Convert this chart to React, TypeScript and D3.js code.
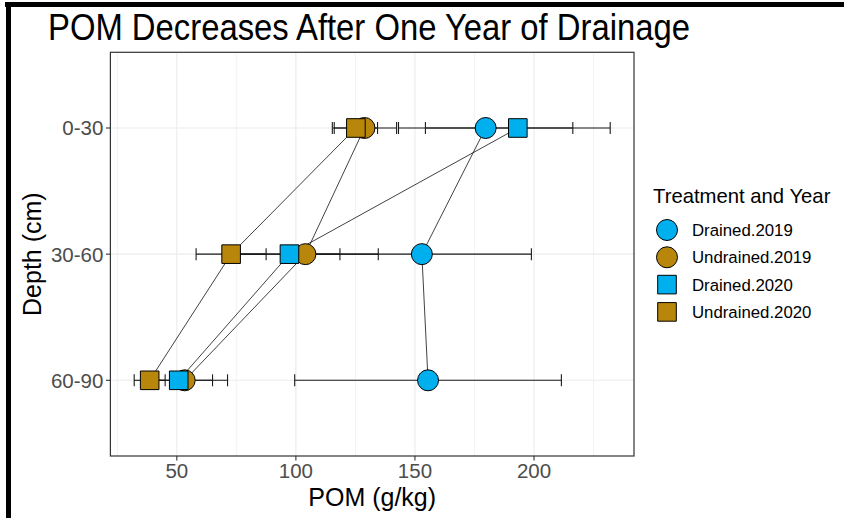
import React, { useEffect, useRef } from "react";
import * as d3 from "d3";

const depths = ["0-30", "30-60", "60-90"];
const seriesNames = ["Drained.2019", "Undrained.2019", "Drained.2020", "Undrained.2020"];
const drained2019 = [179.7, 152.9, 155.5];
const drained2019Se = [36.6, 46.0, 56.0];
const undrained2019 = [128.8, 104.0, 53.3];
const undrained2019Se = [13.5, 30.6, 18.0];
const drained2020 = [193.2, 97.3, 50.8];
const drained2020Se = [38.8, 21.2, 14.2];
const undrained2020 = [125.2, 72.8, 38.6];
const undrained2020Se = [9.1, 14.7, 6.5];
const xTicks = [50, 100, 150, 200];

const W = 844;
const H = 518;
const FONT = "'Liberation Sans', Arial, sans-serif";
const BLUE = "#00B0EE";
const GOLD = "#B8860B";

type Series = { name: string; means: number[]; se: number[]; color: string; shape: "circle" | "square" };

const App = () => {
    const svgRef = useRef<SVGSVGElement>(null);

    useEffect(() => {
        const series: Series[] = [
            { name: seriesNames[0], means: drained2019, se: drained2019Se, color: BLUE, shape: "circle" },
            { name: seriesNames[1], means: undrained2019, se: undrained2019Se, color: GOLD, shape: "circle" },
            { name: seriesNames[2], means: drained2020, se: drained2020Se, color: BLUE, shape: "square" },
            { name: seriesNames[3], means: undrained2020, se: undrained2020Se, color: GOLD, shape: "square" },
        ];

        const svg = d3.select(svgRef.current);
        svg.selectAll("*").remove();

        // frame of the screenshot
        svg.append("rect").attr("x", 0).attr("y", 0).attr("width", W).attr("height", H).attr("fill", "#fff");
        svg.append("rect").attr("x", 5).attr("y", 2).attr("width", W - 5).attr("height", 5).attr("fill", "#000");
        svg.append("rect").attr("x", 6).attr("y", 2).attr("width", 5).attr("height", H).attr("fill", "#000");

        const panel = { left: 110.4, right: 634, top: 52.3, bottom: 456 };

        // x domain from data with ggplot-like 5% expansion
        const lo = d3.min(series, (s) => d3.min(s.means, (m, i) => m - s.se[i])) as number;
        const hi = d3.max(series, (s) => d3.max(s.means, (m, i) => m + s.se[i])) as number;
        const pad = (hi - lo) * 0.05;
        const x = d3.scaleLinear().domain([lo - pad, hi + pad]).range([panel.left, panel.right]);
        const y = d3
            .scalePoint<string>()
            .domain(depths)
            .range([panel.top, panel.bottom])
            .padding(0.6);

        const g = svg.append("g");

        // grid
        const minor = d3.range(25, 250, 50).filter((v) => x(v) > panel.left && x(v) < panel.right);
        g.selectAll(".minor")
            .data(minor)
            .enter()
            .append("line")
            .attr("x1", (d) => x(d))
            .attr("x2", (d) => x(d))
            .attr("y1", panel.top)
            .attr("y2", panel.bottom)
            .attr("stroke", "#EBEBEB")
            .attr("stroke-width", 0.6);
        g.selectAll(".major")
            .data(xTicks)
            .enter()
            .append("line")
            .attr("x1", (d) => x(d))
            .attr("x2", (d) => x(d))
            .attr("y1", panel.top)
            .attr("y2", panel.bottom)
            .attr("stroke", "#EBEBEB")
            .attr("stroke-width", 1.1);
        g.selectAll(".hgrid")
            .data(depths)
            .enter()
            .append("line")
            .attr("x1", panel.left)
            .attr("x2", panel.right)
            .attr("y1", (d) => y(d) as number)
            .attr("y2", (d) => y(d) as number)
            .attr("stroke", "#EBEBEB")
            .attr("stroke-width", 1.1);

        // error bars
        series.forEach((s) => {
            s.means.forEach((m, i) => {
                const yy = y(depths[i]) as number;
                const x0 = x(m - s.se[i]);
                const x1 = x(m + s.se[i]);
                g.append("line").attr("x1", x0).attr("x2", x1).attr("y1", yy).attr("y2", yy)
                    .attr("stroke", "#1a1a1a").attr("stroke-width", 1.1);
                [x0, x1].forEach((xx) => {
                    g.append("line").attr("x1", xx).attr("x2", xx).attr("y1", yy - 6).attr("y2", yy + 6)
                        .attr("stroke", "#1a1a1a").attr("stroke-width", 1.1);
                });
            });
        });

        // connecting paths
        const line = d3
            .line<number>()
            .x((d) => x(d))
            .y((d, i) => y(depths[i]) as number);
        series.forEach((s) => {
            g.append("path")
                .attr("d", line(s.means))
                .attr("fill", "none")
                .attr("stroke", "#111")
                .attr("stroke-width", 0.8);
        });

        // points
        const symCircle = d3.symbol().type(d3.symbolCircle).size(Math.PI * 10.5 * 10.5);
        const symSquare = d3.symbol().type(d3.symbolSquare).size(18.6 * 18.6);
        ["circle", "square"].forEach((shape) => {
            series
                .filter((s) => s.shape === shape)
                .forEach((s) => {
                    g.selectAll(null)
                        .data(s.means)
                        .enter()
                        .append("path")
                        .attr("d", shape === "circle" ? symCircle() : symSquare())
                        .attr("transform", (d, i) => `translate(${x(d)},${y(depths[i])})`)
                        .attr("fill", s.color)
                        .attr("stroke", "#000")
                        .attr("stroke-width", 1);
                });
        });

        // panel border
        g.append("rect")
            .attr("x", panel.left)
            .attr("y", panel.top)
            .attr("width", panel.right - panel.left)
            .attr("height", panel.bottom - panel.top)
            .attr("fill", "none")
            .attr("stroke", "#333")
            .attr("stroke-width", 1.2);

        // axes ticks + labels
        xTicks.forEach((t) => {
            g.append("line").attr("x1", x(t)).attr("x2", x(t)).attr("y1", panel.bottom).attr("y2", panel.bottom + 4.5)
                .attr("stroke", "#333").attr("stroke-width", 1.1);
            g.append("text").attr("x", x(t)).attr("y", panel.bottom + 22).attr("text-anchor", "middle")
                .style("font-family", FONT).style("font-size", "20.5px").style("fill", "#4D4D4D").text(t);
        });
        depths.forEach((d) => {
            const yy = y(d) as number;
            g.append("line").attr("x1", panel.left - 4.5).attr("x2", panel.left).attr("y1", yy).attr("y2", yy)
                .attr("stroke", "#333").attr("stroke-width", 1.1);
            g.append("text").attr("x", panel.left - 7).attr("y", yy).attr("dy", "0.36em").attr("text-anchor", "end")
                .style("font-family", FONT).style("font-size", "20.5px").style("fill", "#4D4D4D").text(d);
        });

        // axis titles
        g.append("text").attr("x", (panel.left + panel.right) / 2).attr("y", 506).attr("text-anchor", "middle")
            .style("font-family", FONT).style("font-size", "25px").style("fill", "#000").text("POM (g/kg)");
        g.append("text")
            .attr("transform", `translate(41,${(panel.top + panel.bottom) / 2}) rotate(-90)`)
            .attr("text-anchor", "middle")
            .style("font-family", FONT).style("font-size", "25px").style("fill", "#000").text("Depth (cm)");

        // title
        g.append("text").attr("x", 48).attr("y", 40)
            .attr("textLength", 642).attr("lengthAdjust", "spacingAndGlyphs")
            .style("font-family", FONT).style("font-size", "37px").style("fill", "#000")
            .text("POM Decreases After One Year of Drainage");

        // legend
        const leg = svg.append("g");
        leg.append("text").attr("x", 653).attr("y", 203)
            .style("font-family", FONT).style("font-size", "20.3px").style("fill", "#000").text("Treatment and Year");
        series.forEach((s, i) => {
            const cy = 230 + i * 27.3;
            leg.append("path")
                .attr("d", s.shape === "circle" ? symCircle() : symSquare())
                .attr("transform", `translate(667,${cy})`)
                .attr("fill", s.color)
                .attr("stroke", "#000")
                .attr("stroke-width", 1);
            leg.append("text").attr("x", 692).attr("y", cy).attr("dy", "0.36em")
                .style("font-family", FONT).style("font-size", "16.8px").style("fill", "#000").text(s.name);
        });
    }, []);

    return (
        <svg
            ref={svgRef}
            width={W}
            height={H}
            style={{ position: "absolute", left: 0, top: 0 }}
        ></svg>
    );
};

export default App;
